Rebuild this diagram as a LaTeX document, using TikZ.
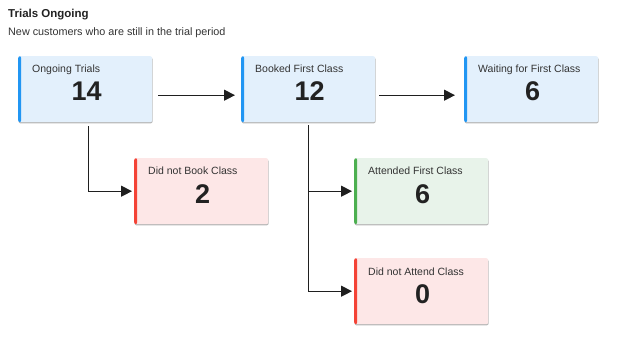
\documentclass[tikz,border=0pt]{standalone}
\usepackage{fontspec}
\setmainfont{Liberation Sans}
\usetikzlibrary{arrows.meta,shadows}
\definecolor{bluefill}{HTML}{E3F0FC}
\definecolor{redfill}{HTML}{FDE7E7}
\definecolor{greenfill}{HTML}{E8F3EA}
\definecolor{bluebar}{HTML}{2196F3}
\definecolor{redbar}{HTML}{F44336}
\definecolor{greenbar}{HTML}{4CAF50}
\definecolor{txt}{HTML}{333333}
\definecolor{num}{HTML}{222222}
\tikzset{
  card/.style={rectangle, anchor=north west, inner sep=0pt,
    minimum width=134pt, minimum height=66pt, rounded corners=2pt,
    fill=#1fill,
    general shadow={fill=black!28, shadow xshift=0.4pt, shadow yshift=-1.2pt},
    path picture={\fill[#1bar] (path picture bounding box.north west) rectangle ([xshift=3pt]path picture bounding box.south west);}},
  lbl/.style={anchor=base west, inner sep=0pt, text=txt, font=\fontsize{10.5pt}{12pt}\selectfont},
  numb/.style={anchor=base, inner sep=0pt, text=num, font=\fontsize{27pt}{30pt}\selectfont\bfseries},
  arr/.style={line width=1.2pt, draw=black!88, -{Triangle[length=11pt,width=11pt]}},
}
\begin{document}
\begin{tikzpicture}[x=1pt,y=-1pt]
\useasboundingbox (0,0) rectangle (632,350);
\node[anchor=base west, inner sep=0pt, text=num, font=\fontsize{11.5pt}{13pt}\selectfont\bfseries] (title) at (8,18) {Trials Ongoing};
\node[anchor=base west, inner sep=0pt, text=txt, font=\fontsize{10.8pt}{13pt}\selectfont] (sub) at (8,36) {New customers who are still in the trial period};

\node[card=blue] (ot) at (18,56) {};
\node[card=blue] (bf) at (241,56) {};
\node[card=blue] (wf) at (464,56) {};
\node[card=red] (db) at (134,158) {};
\node[card=green] (af) at (354,158) {};
\node[card=red] (da) at (354,258) {};

\foreach \n/\t/\v in {ot/Ongoing Trials/14, bf/Booked First Class/12, wf/Waiting for First Class/6, db/Did not Book Class/2, af/Attended First Class/6, da/Did not Attend Class/0}{
  \node[lbl] (\n-l) at ([shift={(14pt,-17pt)}]\n.north west) {\t};
  \node[numb] (\n-v) at ([shift={(1.5pt,-45pt)}]\n.north) {\v};
}

\draw[arr] ([shift={(6pt,-6pt)}]ot.east) -- ([shift={(-6pt,-6pt)}]bf.west);
\draw[arr] ([shift={(4pt,-6pt)}]bf.east) -- ([shift={(-9pt,-6pt)}]wf.west);
\draw[arr] ([shift={(3pt,-4pt)}]ot.south) |- ([xshift=-2pt]db.west);
\draw[arr] ([yshift=-3pt]bf.south) |- ([xshift=-2pt]af.west);
\draw[arr] ([yshift=-3pt]bf.south) |- ([xshift=-2pt]da.west);
\end{tikzpicture}
\end{document}
